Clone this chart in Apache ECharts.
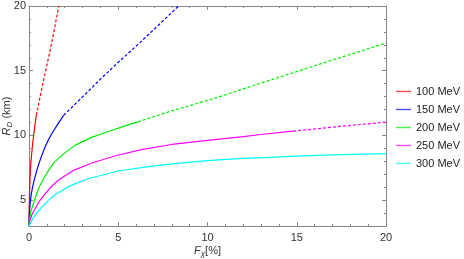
<!DOCTYPE html>
<html>
<head>
<meta charset="utf-8">
<script src="https://cdn.jsdelivr.net/npm/echarts@6/dist/echarts.min.js"></script>
<style>html,body{margin:0;padding:0;background:#fff;}#c{width:464px;height:259px;}</style>
</head>
<body>
<div id="c"></div>
<script>
// Legend names
var names = ['100 MeV', '150 MeV', '200 MeV', '250 MeV', '300 MeV'];
var colors = ['#ff0000', '#0000ff', '#00ee00', '#ff00ff', '#00ffff'];
// Solid parts [F_chi %, R_D km]
var solid100 = [[0,3],[0.01,4.3],[0.03,5.6],[0.06,6.8],[0.1,7.8],[0.15,8.6],[0.2,9.3],[0.26,10.0],[0.33,10.8],[0.41,11.55]];
var dash100  = [[0.41,11.55],[0.7,13.5],[1.0,15.4],[1.35,17.7],[1.67,20]];
var solid150 = [[0,3],[0.02,3.9],[0.06,4.7],[0.12,5.4],[0.2,6.0],[0.3,6.6],[0.42,7.2],[0.55,7.8],[0.7,8.4],[0.9,9.1],[1.1,9.7],[1.35,10.3],[1.65,10.95],[1.94,11.55]];
var dash150  = [[1.94,11.55],[2.87,12.8],[4,14.35],[5,15.65],[6,16.9],[7.2,18.45],[8.38,20]];
var solid200 = [[0,3],[0.03,3.5],[0.1,4.1],[0.26,4.8],[0.5,5.8],[0.75,6.5],[1.05,7.2],[1.4,7.9],[2,8.65],[2.6,9.25],[3.5,9.85],[4.46,10.3],[5.3,10.7],[6.1,11.05]];
var dash200  = [[6.1,11.05],[8,11.9],[10.25,12.8],[13,14.04],[16.5,15.6],[20,17.14]];
var solid250 = [[0,3],[0.05,3.4],[0.15,3.85],[0.35,4.35],[0.6,4.95],[0.91,5.5],[1.25,6.05],[1.66,6.55],[2.5,7.3],[3.53,7.87],[4.9,8.45],[6.3,8.9],[8,9.3],[10,9.62],[12,9.9],[13,10.07],[14.8,10.33]];
var dash250  = [[14.8,10.33],[17.5,10.7],[20,11.03]];
var solid300 = [[0,3],[0.05,3.1],[0.2,3.55],[0.45,4.05],[0.75,4.5],[1.1,5.0],[1.5,5.45],[2.3,6.1],[3.3,6.65],[5,7.25],[6.5,7.55],[8,7.8],[10,8.05],[12,8.22],[13.5,8.31],[15,8.4],[17,8.5],[20,8.6]];
var dash300  = [];
var yTicks = [5,10,15,20];

var solids = [solid100, solid150, solid200, solid250, solid300];
var dashes = [dash100, dash150, dash200, dash250, dash300];

var series = [];
for (var i = 0; i < 5; i++) {
  series.push({
    name: names[i], type: 'line', data: solids[i], showSymbol: false, symbol: 'none',
    smooth: false,
    lineStyle: { color: colors[i], width: 1.2 }, itemStyle: { color: colors[i] }
  });
  if (dashes[i].length) {
    series.push({
      name: names[i] + ' (dashed)', type: 'line', data: dashes[i], showSymbol: false, symbol: 'none',
      smooth: false,
      lineStyle: { color: colors[i], width: 1.2, type: [3, 2] }, itemStyle: { color: colors[i] }
    });
  }
}

var axisCol = '#888888';
var lblCol = '#333333';
var chart = echarts.init(document.getElementById('c'));
chart.setOption({
  animation: false,
  grid: { left: 29, right: 78, top: 6, bottom: 33, containLabel: false, outerBoundsMode: 'none' },
  legend: {
    data: names, orient: 'vertical', left: 391, top: 81, itemGap: 7,
    itemWidth: 15, itemHeight: 12, icon: 'path://M0,5 L16,5 L16,6.5 L0,6.5 Z',
    textStyle: { fontSize: 11, color: '#222', fontFamily: 'Liberation Sans, Arial, sans-serif' },
    itemStyle: { opacity: 0.7 }
  },
  xAxis: [{
    type: 'value', min: 0, max: 20, interval: 5, position: 'bottom',
    name: '{i|F}{s|χ}{n|[%]}', nameLocation: 'middle', nameGap: 18, nameMoveOverlap: false,
    nameTextStyle: { rich: {
      i: { fontStyle: 'italic', fontSize: 11, color: lblCol, fontFamily: 'Liberation Sans, Arial' },
      s: { fontStyle: 'italic', fontSize: 8, color: lblCol, verticalAlign: 'bottom', padding: [6,0,0,0] },
      n: { fontSize: 11, color: lblCol, fontFamily: 'Liberation Sans, Arial' }
    }},
    axisLine: { lineStyle: { color: axisCol, width: 1 } },
    axisTick: { inside: true, length: 4, lineStyle: { color: axisCol } },
    minorTick: { show: true, splitNumber: 5, length: 2, lineStyle: { color: axisCol } },
    axisLabel: { color: lblCol, fontSize: 11, margin: 6, fontFamily: 'Liberation Sans, Arial' },
    splitLine: { show: false }
  }, {
    type: 'value', min: 0, max: 20, interval: 5, position: 'top',
    axisLine: { lineStyle: { color: axisCol, width: 1 } },
    axisTick: { inside: true, length: 4, lineStyle: { color: axisCol } },
    minorTick: { show: true, splitNumber: 5, length: 2, lineStyle: { color: axisCol } },
    axisLabel: { show: false }, splitLine: { show: false }
  }],
  yAxis: [{
    type: 'value', min: 3, max: 20, position: 'left',
    name: '{i|R}{s|D}{n| (km)}', nameLocation: 'middle', nameGap: 15, nameRotate: 90, nameMoveOverlap: false,
    nameTextStyle: { rich: {
      i: { fontStyle: 'italic', fontSize: 11, color: lblCol, fontFamily: 'Liberation Sans, Arial' },
      s: { fontStyle: 'italic', fontSize: 8, color: lblCol, verticalAlign: 'bottom', padding: [6,0,0,0] },
      n: { fontSize: 11, color: lblCol, fontFamily: 'Liberation Sans, Arial' }
    }},
    axisLine: { show: true, lineStyle: { color: axisCol, width: 1 } },
    axisTick: { show: true, inside: true, length: 4, customValues: yTicks, lineStyle: { color: axisCol } },
    axisLabel: { color: lblCol, fontSize: 11, margin: 3, customValues: yTicks, fontFamily: 'Liberation Sans, Arial' },
    splitLine: { show: false }
  }, {
    type: 'value', min: 3, max: 20, interval: 1, position: 'left',
    axisLine: { show: false },
    axisTick: { show: true, inside: true, length: 2, lineStyle: { color: axisCol } },
    axisLabel: { show: false }, splitLine: { show: false }
  }, {
    type: 'value', min: 3, max: 20, position: 'right',
    axisLine: { show: true, lineStyle: { color: axisCol, width: 1 } },
    axisTick: { show: true, inside: true, length: 4, customValues: yTicks, lineStyle: { color: axisCol } },
    axisLabel: { show: false }, splitLine: { show: false }
  }, {
    type: 'value', min: 3, max: 20, interval: 1, position: 'right',
    axisLine: { show: false },
    axisTick: { show: true, inside: true, length: 2, lineStyle: { color: axisCol } },
    axisLabel: { show: false }, splitLine: { show: false }
  }],
  series: series
});
</script>
</body>
</html>
